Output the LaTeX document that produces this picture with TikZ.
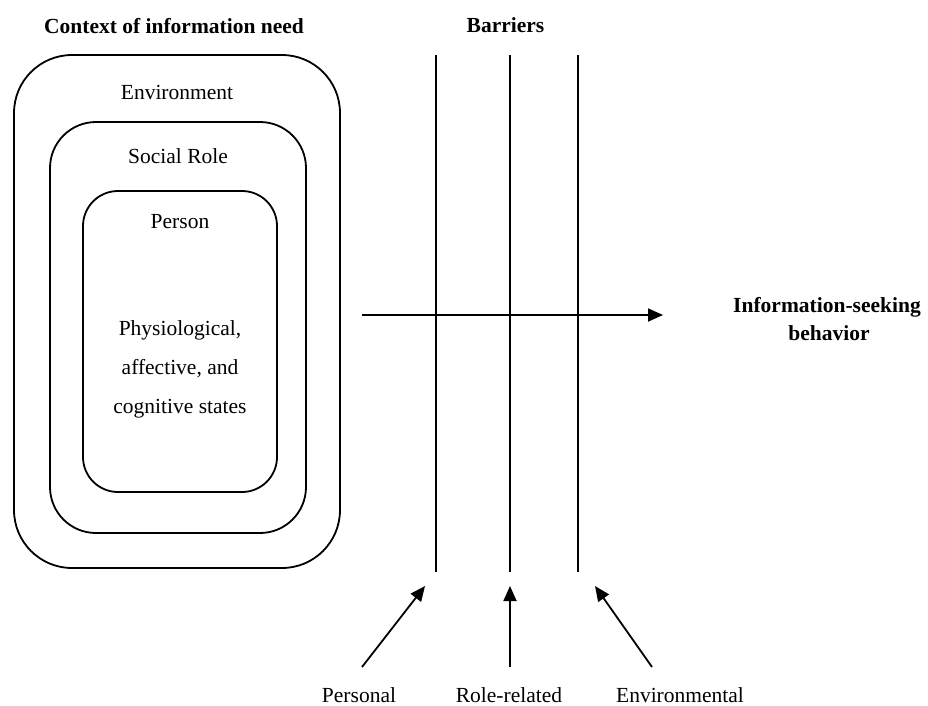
\documentclass[tikz,border=0pt]{standalone}
\usepackage{fontspec}
\setmainfont{Liberation Serif}
\usetikzlibrary{arrows.meta}
\begin{document}
\begin{tikzpicture}[x=1pt,y=-1pt,
  lw/.style={line width=1.8pt},
  box/.style={draw,lw,inner sep=0pt},
  txt/.style={font=\fontsize{21.5}{26}\selectfont,anchor=base,inner sep=0pt},
  btxt/.style={font=\fontsize{21.5}{26}\selectfont\bfseries,anchor=base,inner sep=0pt},
  arr/.style={lw,-{Triangle[length=15pt,width=13pt]}}]
\useasboundingbox (0,0) rectangle (928,705);
% nested boxes
\node[box,rounded corners=58pt,minimum width=326pt,minimum height=513pt] (env) at (177,311.5) {};
\node[box,rounded corners=46pt,minimum width=256pt,minimum height=411pt] (role) at (178,327.5) {};
\node[box,rounded corners=35pt,minimum width=194pt,minimum height=301pt] (person) at (180,341.5) {};
% texts
\node[btxt] (title) at (174,33) {Context of information need};
\node[btxt] (barriers) at (505.5,32) {Barriers};
\node[txt] (tenv) at (177,99) {Environment};
\node[txt] (trole) at (178,163) {Social Role};
\node[txt] (tperson) at (180,228) {Person};
\node[txt] (ts1) at (180,335) {Physiological,};
\node[txt] (ts2) at (180,374) {affective, and};
\node[txt] (ts3) at (180,413) {cognitive states};
\node[btxt] (isb1) at (827,312) {Information-seeking};
\node[btxt] (isb2) at (829,340) {behavior};
\node[txt] (lpers) at (359,702) {Personal};
\node[txt] (lrole) at (509,702) {Role-related};
\node[txt] (lenv) at (680,702) {Environmental};
% barrier lines
\coordinate (b1t) at (436,55); \coordinate (b1b) at (436,572);
\coordinate (b2t) at (510,55); \coordinate (b2b) at (510,572);
\coordinate (b3t) at (578,55); \coordinate (b3b) at (578,572);
\draw[lw] (b1t) -- (b1b);
\draw[lw] (b2t) -- (b2b);
\draw[lw] (b3t) -- (b3b);
% main arrow
\coordinate (hs) at (362,315); \coordinate (he) at (663,315);
\draw[arr] (hs) -- (he);
% barrier arrows
\coordinate (p0) at (362,667); \coordinate (p1) at (425,586);
\coordinate (r0) at (510,667); \coordinate (r1) at (510,586);
\coordinate (e0) at (652,667); \coordinate (e1) at (595,586);
\draw[arr] (p0) -- (p1);
\draw[arr] (r0) -- (r1);
\draw[arr] (e0) -- (e1);
\end{tikzpicture}
\end{document}
